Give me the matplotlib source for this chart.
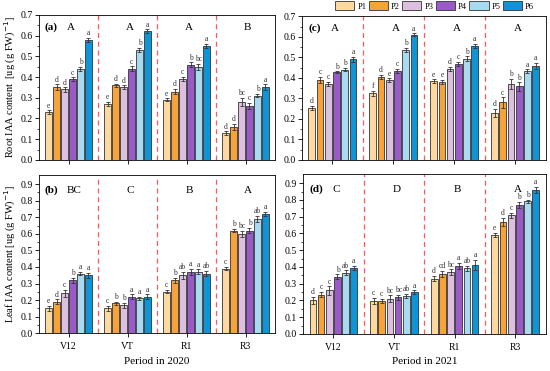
import matplotlib.pyplot as plt
import numpy as np

plt.rcParams['font.family'] = ['Liberation Serif', 'DejaVu Serif']

periods = ['V12', 'VT', 'R1', 'R3']
treat = ['P1', 'P2', 'P3', 'P4', 'P5', 'P6']
colors = ['#FDD9A0', '#F7A33A', '#DDBFE0', '#9A5BC8', '#A8DBF2', '#0E95D8']

# (a) root 2020
root20 = [[0.23, 0.35, 0.34, 0.39, 0.44, 0.58],
          [0.27, 0.36, 0.35, 0.44, 0.53, 0.62],
          [0.29, 0.33, 0.39, 0.46, 0.45, 0.55],
          [0.13, 0.16, 0.28, 0.26, 0.31, 0.35]]
root20_err = [[0.01, 0.015, 0.01, 0.008, 0.01, 0.01],
              [0.01, 0.008, 0.01, 0.012, 0.01, 0.01],
              [0.008, 0.012, 0.01, 0.012, 0.015, 0.01],
              [0.008, 0.015, 0.02, 0.015, 0.008, 0.015]]
root20_let = [['e', 'd', 'd', 'c', 'b', 'a'],
              ['e', 'd', 'd', 'c', 'b', 'a'],
              ['e', 'd', 'c', 'b', 'bc', 'a'],
              ['d', 'd', 'bc', 'c', 'b', 'a']]
root20_grp = ['A', 'A', 'A', 'B']

# (c) root 2021
root21 = [[0.255, 0.39, 0.372, 0.428, 0.44, 0.49],
          [0.325, 0.405, 0.388, 0.435, 0.538, 0.61],
          [0.385, 0.38, 0.445, 0.468, 0.494, 0.555],
          [0.228, 0.28, 0.37, 0.358, 0.432, 0.458]]
root21_err = [[0.01, 0.015, 0.01, 0.005, 0.008, 0.012],
              [0.012, 0.01, 0.01, 0.01, 0.01, 0.008],
              [0.008, 0.01, 0.01, 0.01, 0.012, 0.01],
              [0.02, 0.025, 0.025, 0.02, 0.01, 0.015]]
root21_let = [['d', 'c', 'c', 'b', 'b', 'a'],
              ['f', 'd', 'e', 'c', 'b', 'a'],
              ['e', 'e', 'd', 'c', 'b', 'a'],
              ['d', 'c', 'b', 'b', 'a', 'a']]
root21_grp = ['A', 'A', 'A', 'A']

# (b) leaf 2020
leaf20 = [[0.15, 0.19, 0.24, 0.32, 0.36, 0.35],
          [0.15, 0.18, 0.17, 0.22, 0.21, 0.22],
          [0.25, 0.32, 0.35, 0.37, 0.37, 0.36],
          [0.39, 0.62, 0.60, 0.62, 0.69, 0.72]]
leaf20_err = [[0.015, 0.015, 0.02, 0.015, 0.01, 0.015],
              [0.015, 0.01, 0.015, 0.015, 0.01, 0.015],
              [0.01, 0.015, 0.02, 0.02, 0.015, 0.015],
              [0.01, 0.01, 0.02, 0.015, 0.02, 0.015]]
leaf20_let = [['e', 'd', 'c', 'b', 'a', 'a'],
              ['c', 'b', 'b', 'a', 'a', 'a'],
              ['c', 'b', 'ab', 'a', 'a', 'ab'],
              ['c', 'b', 'bc', 'b', 'ab', 'a']]
leaf20_grp = ['BC', 'C', 'B', 'A']

# (d) leaf 2021
leaf21 = [[0.20, 0.235, 0.26, 0.34, 0.365, 0.393],
          [0.197, 0.197, 0.21, 0.22, 0.227, 0.25],
          [0.33, 0.358, 0.368, 0.405, 0.393, 0.412],
          [0.593, 0.668, 0.71, 0.77, 0.792, 0.86]]
leaf21_err = [[0.02, 0.015, 0.025, 0.015, 0.015, 0.012],
              [0.02, 0.012, 0.02, 0.015, 0.012, 0.01],
              [0.015, 0.02, 0.018, 0.02, 0.015, 0.03],
              [0.012, 0.025, 0.015, 0.02, 0.008, 0.018]]
leaf21_let = [['d', 'c', 'c', 'b', 'ab', 'a'],
              ['c', 'c', 'bc', 'bc', 'ab', 'a'],
              ['d', 'cd', 'bc', 'a', 'ab', 'a'],
              ['e', 'd', 'c', 'b', 'b', 'a']]
leaf21_grp = ['C', 'D', 'B', 'A']

fig = plt.figure(figsize=(5.5, 3.71), dpi=100)
ax_a = fig.add_axes([0.071, 0.569, 0.429, 0.391])
ax_c = fig.add_axes([0.549, 0.569, 0.443, 0.387])
ax_b = fig.add_axes([0.071, 0.102, 0.429, 0.426])
ax_d = fig.add_axes([0.551, 0.100, 0.441, 0.431])

w = 0.11
step = 0.135
xs = np.arange(len(periods))


def panel(ax, vals, errs, lets, grp, tag, ymax, ytop, ylab=None, xlab=None):
    vals = np.array(vals)
    errs = np.array(errs)
    for j in range(len(treat)):
        xp = xs + (j - 2.5) * step
        ax.bar(xp, vals[:, j], w, color=colors[j], edgecolor='#333333',
               linewidth=0.6, label=treat[j], zorder=2)
        ax.errorbar(xp, vals[:, j], yerr=errs[:, j], fmt='none', ecolor='#333333',
                    elinewidth=0.6, capsize=1.5, capthick=0.6, zorder=3)
        for i in range(len(periods)):
            ax.text(xp[i], vals[i, j] + errs[i, j] + ymax * 0.004, lets[i][j],
                    ha='center', va='bottom', fontsize=5.5, color='#333333')
    for b in [0.5, 1.5, 2.5]:
        ax.axvline(b, color='#FF5A5A', ls=(0, (4, 3)), lw=0.9, zorder=1)
    for i, g in enumerate(grp):
        off = 0.1 if len(g) > 1 else 0.04
        ax.text(xs[i] + off, ytop, g, ha='center', va='center', fontsize=8)
    ax.text(-0.4, ytop, tag, ha='left', va='center', fontsize=8, fontweight='bold')
    ax.set_xlim(-0.5, 3.5)
    ax.set_ylim(0, ymax)
    ax.set_xticks(xs)
    ax.tick_params(axis='x', which='major', length=3, width=0.6, labelsize=7)
    ax.tick_params(axis='y', which='major', length=3, width=0.6, labelsize=7, pad=1.5)
    ax.tick_params(axis='y', which='minor', length=1.5, width=0.5)
    for s in ax.spines.values():
        s.set_linewidth(0.6)
    if ylab:
        ax.set_ylabel(ylab, fontsize=7.5, labelpad=2)
    if xlab:
        ax.set_xticklabels(periods)
        ax.set_xlabel(xlab, fontsize=8, labelpad=4)
    else:
        ax.set_xticklabels([])


panel(ax_a, root20, root20_err, root20_let, root20_grp, '(a)', 0.7, 0.64,
      ylab='Root IAA content  [ug (g FW)$^{-1}$]')
ax_a.set_yticks(np.arange(0, 0.71, 0.1))
ax_a.set_yticks(np.arange(0.05, 0.7, 0.1), minor=True)
panel(ax_c, root21, root21_err, root21_let, root21_grp, '(c)', 0.7, 0.64)
ax_c.set_yticks(np.arange(0, 0.71, 0.1))
ax_c.set_yticks(np.arange(0.05, 0.7, 0.1), minor=True)
panel(ax_b, leaf20, leaf20_err, leaf20_let, leaf20_grp, '(b)', 0.955, 0.865,
      ylab='Leaf IAA content [ug (g FW)$^{-1}$]', xlab='Period in 2020')
ax_b.set_yticks(np.arange(0, 0.91, 0.1))
ax_b.set_yticks(np.arange(0.05, 0.95, 0.1), minor=True)
panel(ax_d, leaf21, leaf21_err, leaf21_let, leaf21_grp, '(d)', 0.955, 0.865,
      xlab='Period in 2021')
ax_d.set_yticks(np.arange(0, 0.91, 0.1))
ax_d.set_yticks(np.arange(0.05, 0.95, 0.1), minor=True)
for ax in [ax_a, ax_b, ax_c, ax_d]:
    ax.yaxis.set_major_formatter(plt.FormatStrFormatter('%.1f'))

h, l = ax_a.get_legend_handles_labels()
h = [x for x in h if hasattr(x, 'patches')]
fig.legend(h, treat, loc='upper right', bbox_to_anchor=(0.98, 1.01), ncol=6,
           frameon=False, fontsize=6, handlelength=2.3, handleheight=1.3,
           handletextpad=0.35, columnspacing=0.3, borderaxespad=0.2)

fig.savefig('out.png', dpi=100)
